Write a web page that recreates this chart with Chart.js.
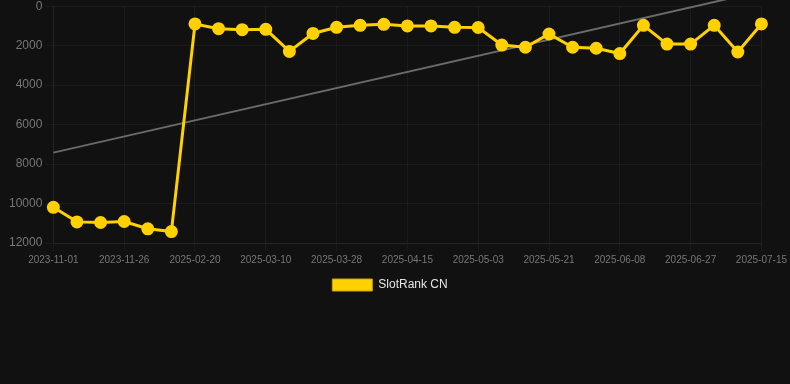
<!DOCTYPE html>
<html>
<head>
<meta charset="utf-8">
<script src="https://cdn.jsdelivr.net/npm/chart.js@4"></script>
<style>
  html, body { margin: 0; padding: 0; background: #111111; overflow: hidden; }
  #wrap { width: 790px; height: 305px; margin-top: -4px; position: relative; }
</style>
</head>
<body>
<div id="wrap"><canvas id="c"></canvas></div>
<script>
const labels = [
  "2023-11-01", "2023-11-09", "2023-11-17", "2023-11-26", "2023-12-04", "2023-12-12",
  "2025-02-20", "2025-02-26", "2025-03-04", "2025-03-10", "2025-03-16", "2025-03-22",
  "2025-03-28", "2025-04-03", "2025-04-09", "2025-04-15", "2025-04-21", "2025-04-27",
  "2025-05-03", "2025-05-09", "2025-05-15", "2025-05-21", "2025-05-27", "2025-06-02",
  "2025-06-08", "2025-06-14", "2025-06-21", "2025-06-27", "2025-07-03", "2025-07-09",
  "2025-07-15"
];
const rankValues = [
  10190, 10930, 10960, 10910, 11280, 11420,
  900, 1140, 1190, 1170, 2290, 1380,
  1070, 970, 920, 1000, 1000, 1070,
  1080, 1970, 2080, 1410, 2080, 2130,
  2400, 970, 1920, 1920, 970, 2320,
  900
];
const trendStart = 7420;
const trendEnd = -760;
const trendValues = labels.map((_, i) => i === 0 ? trendStart : (i === labels.length - 1 ? trendEnd : null));
const yTicks = [0, 2000, 4000, 6000, 8000, 10000, 12000];
const seriesName = "SlotRank CN";

const legendShift = {
  id: 'legendShift',
  afterUpdate(chart) {
    const lg = chart.legend;
    if (lg) { lg.left -= 8; lg.right -= 8; if (lg.adjustHitBoxes) lg.adjustHitBoxes(); }
  }
};

new Chart(document.getElementById('c'), {
  type: 'line',
  data: {
    labels: labels,
    datasets: [
      {
        label: seriesName,
        data: rankValues,
        borderColor: '#FFD100',
        backgroundColor: '#FFD100',
        borderWidth: 3,
        pointRadius: 5,
        pointHoverRadius: 5,
        pointBackgroundColor: '#FFD100',
        pointBorderColor: '#FFD100',
        tension: 0,
        order: 1
      },
      {
        label: 'trend',
        data: trendValues,
        borderColor: '#6a6a6a',
        borderWidth: 2,
        pointRadius: 0,
        spanGaps: true,
        fill: false,
        clip: 10,
        order: 2
      }
    ]
  },
  plugins: [legendShift],
  options: {
    responsive: true,
    maintainAspectRatio: false,
    animation: false,
    layout: { padding: { left: 6 } },
    plugins: {
      legend: {
        position: 'bottom',
        labels: {
          color: '#e6e6e6',
          font: { family: 'Liberation Sans, Arial, sans-serif', size: 12 },
          boxWidth: 40,
          boxHeight: 12,
          filter: (item) => item.text === seriesName,
          generateLabels: (chart) => Chart.defaults.plugins.legend.labels.generateLabels(chart)
            .map(it => Object.assign(it, { lineWidth: 1, strokeStyle: '#c9a400' }))
        }
      },
      tooltip: { enabled: false }
    },
    scales: {
      x: {
        offset: false,
        grid: { color: 'rgba(255,255,255,0.045)', tickColor: 'rgba(255,255,255,0.045)' },
        border: { color: 'rgba(255,255,255,0.045)' },
        ticks: {
          color: '#777777',
          font: { family: 'Liberation Sans, Arial, sans-serif', size: 10 },
          maxRotation: 0,
          autoSkip: true,
          callback: function(value, index) { return index % 3 === 0 ? labels[index] : null; }
        }
      },
      y: {
        reverse: true,
        min: yTicks[0],
        max: yTicks[yTicks.length - 1],
        grid: { color: 'rgba(255,255,255,0.045)', tickColor: 'rgba(255,255,255,0.045)' },
        border: { color: 'rgba(255,255,255,0.045)' },
        afterBuildTicks: (axis) => { axis.ticks = yTicks.map(v => ({ value: v })); },
        ticks: {
          color: '#777777',
          font: { family: 'Liberation Sans, Arial, sans-serif', size: 12 },
          callback: (v) => String(v)
        }
      }
    }
  }
});
</script>
</body>
</html>
